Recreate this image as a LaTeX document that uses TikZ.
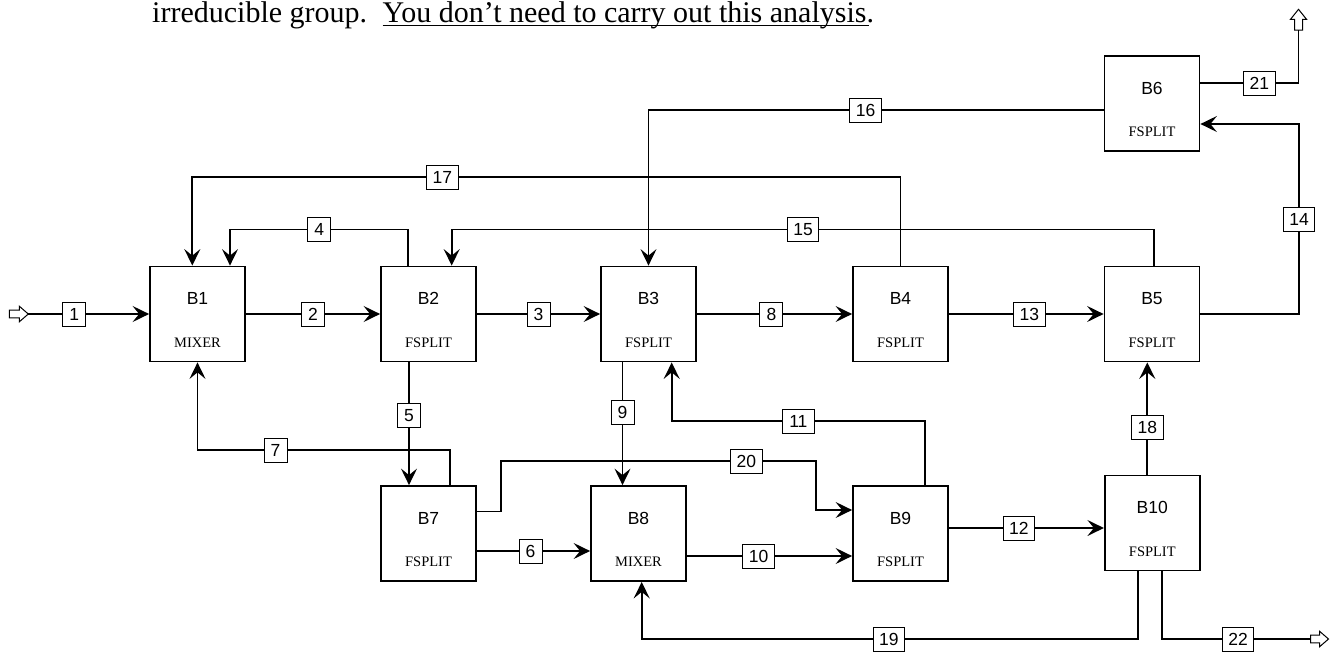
\documentclass[tikz,border=0pt]{standalone}
\usepackage{fontspec}
\setmainfont{Liberation Serif}
\setsansfont{Liberation Sans}
\usetikzlibrary{arrows.meta,calc}
\tikzset{
  blk/.style={draw, line width=1.8pt, minimum width=95pt, minimum height=95pt, inner sep=0pt},
  ttl/.style={font=\sffamily\fontsize{17.5}{20}\selectfont, inner sep=0pt},
  typ/.style={font=\fontsize{14.5}{17}\selectfont, inner sep=0pt},
  lbl/.style={draw, fill=white, line width=0.9pt, minimum width=23pt, minimum height=24pt,
              inner sep=1pt, font=\sffamily\fontsize{17.5}{20}\selectfont},
  wide/.style={minimum width=31.5pt},
  pipe/.style={line width=1.7pt},
  flow/.style={pipe, -{Stealth[length=16.5pt,width=16pt,inset=6.5pt]}},
  hollow/.style={line width=1pt, fill=white, line join=miter},
  hd/.style={anchor=base west, inner sep=0pt, font=\fontsize{30}{36}\selectfont},
}
\begin{document}
\begin{tikzpicture}[x=1pt,y=-1pt]
\useasboundingbox (0,0) rectangle (1336,651);

% heading line of text
\node[hd] (hd1) at (152,22) {irreducible group.};
\node[hd] (hd2) at (382.5,22) {You don’t need to carry out this analysis.};
\draw[line width=1.5pt] ($(hd2.base west)+(0,3.5)$) -- ($(hd2.base east)+(-5,3.5)$);

% unit blocks
\node[blk] (b1)  at (197.5,314)  {};
\node[blk] (b2)  at (428.5,314)  {};
\node[blk] (b3)  at (648.5,314)  {};
\node[blk] (b4)  at (900.5,314)  {};
\node[blk] (b5)  at (1152,314)   {};
\node[blk] (b6)  at (1152,103.5) {};
\node[blk] (b7)  at (428.5,533.5){};
\node[blk] (b8)  at (638.5,533.5){};
\node[blk] (b9)  at (900.5,533.5){};
\node[blk] (b10) at (1152.3,523) {};

\foreach \b/\t/\k in {b1/B1/MIXER, b2/B2/FSPLIT, b3/B3/FSPLIT, b4/B4/FSPLIT, b5/B5/FSPLIT,
                      b6/B6/FSPLIT, b7/B7/FSPLIT, b8/B8/MIXER, b9/B9/FSPLIT, b10/B10/FSPLIT}{
  \node[ttl] (\b t) at ($(\b.north)+(0,33)$) {\t};
  \node[typ] (\b k) at ($(\b.north)+(0,77)$) {\k};
}

% routing levels
\coordinate (y16) at (0,110);
\coordinate (y17) at (0,177);
\coordinate (y4)  at (0,229.5);
\coordinate (y14) at (1299,124);
\coordinate (y11) at (0,421);
\coordinate (y7)  at (0,450);
\coordinate (y20) at (0,461);
\coordinate (y12) at (0,528);
\coordinate (y19) at (0,639);

% feed and products
\coordinate (in1)  at (28.3,314);
\coordinate (o22)  at (1310.5,639);
\coordinate (o21)  at (1298.5,30);
\draw[hollow] (in1) -- ++(-9,-7.8) -- ++(0,4) -- ++(-10,0) -- ++(0,7.6) -- ++(10,0) -- ++(0,4) -- cycle;
\draw[hollow] (o22) -- ++(0,-3.8) -- ++(9,0) -- ++(0,-4) -- ++(9,7.8) -- ++(-9,7.8) -- ++(0,-4) -- ++(-9,0) -- cycle;
\draw[hollow] (o21) -- ++(-4,0) -- ++(0,-10.7) -- ++(-4,0) -- ++(8,-10) -- ++(8,10) -- ++(-4,0) -- ++(0,10.7) -- cycle;

% main line streams
\draw[flow] (in1) -- node[lbl,pos=0.38] (s1) {1} (b1.west);
\draw[flow] (b1.east) -- node[lbl] (s2) {2} (b2.west);
\draw[flow] (b2.east) -- node[lbl] (s3) {3} (b3.west);
\draw[flow] (b3.east) -- node[lbl,pos=0.48] (s8) {8} (b4.west);
\draw[flow] (b4.east) -- node[lbl,wide,pos=0.52] (s13) {13} (b5.west);

% recycle streams above
\coordinate (a14) at (y14 -| b6.east);
\draw[flow] (b5.east) -- (b5.east -| y14) -- node[lbl,wide,pos=0.5] (s14) {14} (y14) -- (a14);

\coordinate (a16) at (b3.north);
\draw[flow] (b6.west |- y16) -- node[lbl,wide,pos=0.523] (s16) {16} (a16 |- y16) -- (a16);

\coordinate (a17) at ($(b1.north)+(-5.2,0)$);
\draw[flow] (b4.north) -- (b4.north |- y17) -- node[lbl,wide,pos=0.647] (s17) {17} (a17 |- y17) -- (a17);

\coordinate (o4) at ($(b2.north)+(-20.2,0)$);
\coordinate (a4) at ($(b1.north)+(32.5,0)$);
\draw[flow] (o4) -- (o4 |- y4) -- node[lbl] (s4) {4} (a4 |- y4) -- (a4);

\coordinate (o15) at ($(b5.north)+(2.3,0)$);
\coordinate (a15) at ($(b2.north)+(23.2,0)$);
\draw[flow] (o15) -- (o15 |- y4) -- node[lbl,wide] (s15) {15} (a15 |- y4) -- (a15);

\coordinate (o21s) at ($(b6.east)+(0,-20.5)$);
\draw[pipe] (o21s) -- node[lbl,wide,pos=0.6] (s21) {21} (o21 |- o21s) -- (o21);

% streams below the main line
\coordinate (o5) at ($(b2.south)+(-19.5,0)$);
\draw[flow] (o5) -- node[lbl,pos=0.43] (s5) {5} (o5 |- b7.north);

\coordinate (o7) at ($(b7.north)+(21.5,0)$);
\draw[flow] (o7) -- (o7 |- y7) -- node[lbl,pos=0.691] (s7) {7} (b1.south |- y7) -- (b1.south);

\coordinate (o9) at ($(b3.south)+(-26,0)$);
\draw[flow] (o9) -- node[lbl,pos=0.406] (s9) {9} (o9 |- b8.north);

\coordinate (o11) at ($(b9.north)+(24.5,0)$);
\coordinate (a11) at ($(b3.south)+(23.2,0)$);
\draw[flow] (o11) -- (o11 |- y11) -- node[lbl,wide] (s11) {11} (a11 |- y11) -- (a11);

\coordinate (o20) at ($(b7.east)+(0,-22)$);
\coordinate (a20) at ($(b9.west)+(0,-23.5)$);
\draw[flow] (o20) -- (501,0 |- o20) -- (501,0 |- y20) -- node[lbl,wide,pos=0.779] (s20) {20} (816,0 |- y20) -- (816,0 |- a20) -- (a20);

\coordinate (o6) at ($(b7.east)+(0,17.5)$);
\draw[flow] (o6) -- node[lbl,pos=0.474] (s6) {6} (o6 -| b8.west);

\coordinate (o10) at ($(b8.east)+(0,22.5)$);
\draw[flow] (o10) -- node[lbl,wide,pos=0.434] (s10) {10} (o10 -| b9.west);

\draw[flow] (b9.east |- y12) -- node[lbl,wide,pos=0.452] (s12) {12} (b10.west |- y12);

\coordinate (o18) at ($(b10.north)+(-5,0)$);
\draw[flow] (o18) -- node[lbl,wide,pos=0.418] (s18) {18} (o18 |- b5.south);

\coordinate (o19) at ($(b10.south)+(-14.5,0)$);
\coordinate (a19) at ($(b8.south)+(3.2,0)$);
\draw[flow] (o19) -- (o19 |- y19) -- node[lbl,wide,pos=0.502] (s19) {19} (a19 |- y19) -- (a19);

\coordinate (o22s) at ($(b10.south)+(9.7,0)$);
\draw[pipe] (o22s) -- (o22s |- o22) -- node[lbl,wide,pos=0.512] (s22) {22} (o22);
\end{tikzpicture}
\end{document}
